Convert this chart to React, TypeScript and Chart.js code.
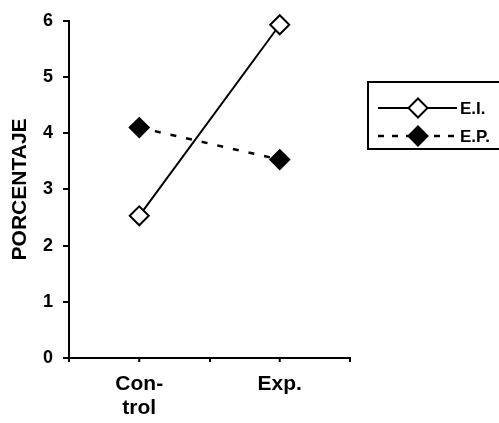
import React, { useEffect, useRef } from "react";
import { Chart, registerables } from "chart.js";

Chart.register(...registerables);

const categories: (string | string[])[] = [["Con-", "trol"], "Exp."];
const seriesNames = ["E.I.", "E.P."];
const eiValues = [2.53, 5.93];
const epValues = [4.1, 3.53];
const yTicks = [0, 1, 2, 3, 4, 5, 6];
const yTitle = "PORCENTAJE";

const FONT = "'Liberation Sans', Arial, sans-serif";

const extrasPlugin = {
  id: "extras",
  afterDraw(chart: any) {
    const ctx = chart.ctx;
    const xs = chart.scales.x;
    const bottom = chart.chartArea.bottom;
    ctx.save();
    // center tick marks on x axis
    ctx.strokeStyle = "#000";
    ctx.lineWidth = 2;
    for (let i = 0; i < categories.length; i++) {
      const px = xs.getPixelForValue(i);
      ctx.beginPath();
      ctx.moveTo(px, bottom);
      ctx.lineTo(px, bottom + 4);
      ctx.stroke();
    }
    // legend box
    const bx = 368, by = 82, bw = 140, bh = 67;
    ctx.lineWidth = 2;
    ctx.strokeRect(bx, by, bw, bh);
    const rows = [
      { name: seriesNames[0], y: 108, dash: [] as number[], fill: "#fff" },
      { name: seriesNames[1], y: 136, dash: [6, 8], fill: "#000" },
    ];
    for (const r of rows) {
      ctx.setLineDash(r.dash);
      ctx.lineWidth = r.dash.length ? 2.5 : 2;
      ctx.beginPath();
      ctx.moveTo(378, r.y);
      ctx.lineTo(457, r.y);
      ctx.stroke();
      ctx.setLineDash([]);
      const cx = 418, rad = 9.5;
      ctx.beginPath();
      ctx.moveTo(cx - rad, r.y);
      ctx.lineTo(cx, r.y - rad);
      ctx.lineTo(cx + rad, r.y);
      ctx.lineTo(cx, r.y + rad);
      ctx.closePath();
      ctx.fillStyle = r.fill;
      ctx.fill();
      ctx.lineWidth = 2;
      ctx.stroke();
      ctx.fillStyle = "#000";
      ctx.font = `bold 17px ${FONT}`;
      ctx.textBaseline = "middle";
      ctx.textAlign = "left";
      ctx.fillText(r.name, 460, r.y + 1);
    }
    ctx.restore();
  },
};

export default function App() {
  const ref = useRef<HTMLCanvasElement>(null);
  useEffect(() => {
    if (!ref.current) return;
    const chart = new Chart(ref.current, {
      type: "line",
      data: {
        labels: categories,
        datasets: [
          {
            label: seriesNames[0],
            data: eiValues,
            borderColor: "#000",
            borderWidth: 2,
            pointStyle: "rectRot",
            pointRadius: 9.5,
            pointBackgroundColor: "#fff",
            pointBorderColor: "#000",
            pointBorderWidth: 2,
            tension: 0,
            clip: false,
          },
          {
            label: seriesNames[1],
            data: epValues,
            borderColor: "#000",
            borderWidth: 2.5,
            borderDash: [6, 10],
            pointStyle: "rectRot",
            pointRadius: 9.5,
            pointBackgroundColor: "#000",
            pointBorderColor: "#000",
            pointBorderWidth: 2,
            tension: 0,
            clip: false,
          },
        ],
      },
      options: {
        animation: false,
        responsive: false,
        layout: { padding: { left: 0, top: 20, right: 149, bottom: 0 } },
        plugins: { legend: { display: false }, tooltip: { enabled: false } },
        scales: {
          x: {
            type: "category",
            offset: true,
            grid: {
              display: true,
              drawOnChartArea: false,
              drawTicks: true,
              tickLength: 4,
              color: "#000",
              lineWidth: 2,
              offset: true,
            },
            border: { display: true, color: "#000", width: 2 },
            ticks: {
              color: "#000",
              padding: 10,
              maxRotation: 0,
              autoSkip: false,
              font: { family: FONT, size: 21, weight: "bold", lineHeight: 1.14 },
            },
            afterFit: (s: any) => {
              s.height = 65;
            },
          },
          y: {
            min: 0,
            max: 6,
            afterBuildTicks: (s: any) => {
              s.ticks = yTicks.map((v) => ({ value: v }));
            },
            grid: {
              display: true,
              drawOnChartArea: false,
              drawTicks: true,
              tickLength: 6,
              color: "#000",
              lineWidth: 2,
            },
            border: { display: true, color: "#000", width: 2 },
            ticks: {
              color: "#000",
              padding: 10,
              font: { family: FONT, size: 18, weight: "bold" },
            },
            title: {
              display: true,
              text: yTitle,
              color: "#000",
              padding: { top: 8, bottom: 0 },
              font: { family: FONT, size: 21, weight: "bold", lineHeight: 1.2 },
            },
            afterFit: (s: any) => {
              s.width = 69;
            },
          },
        },
      },
      plugins: [extrasPlugin],
    });
    return () => chart.destroy();
  }, []);
  return (
    <div style={{ position: "fixed", left: 0, top: 0, width: 499, height: 423, background: "#fff" }}>
      <canvas ref={ref} width={499} height={423} style={{ display: "block" }} />
    </div>
  );
}
